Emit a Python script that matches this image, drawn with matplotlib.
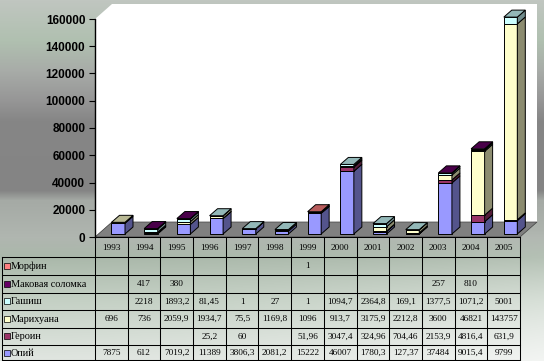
import numpy as np
import matplotlib
matplotlib.use("Agg")
import matplotlib.pyplot as plt
from matplotlib.patches import Polygon
from matplotlib.colors import to_rgb

# ---------------- data ----------------
years = ["1993", "1994", "1995", "1996", "1997", "1998", "1999",
         "2000", "2001", "2002", "2003", "2004", "2005"]
opium = [7875, 612, 7019.2, 11389, 3806.3, 2081.2, 15222, 46007, 1780.3, 127.37, 37484, 9015.4, 9799]
heroin = [None, None, None, 25.2, 60, None, 51.96, 3047.4, 324.96, 704.46, 2153.9, 4816.4, 631.9]
marijuana = [696, 736, 2059.9, 1934.7, 75.5, 1169.8, 1096, 913.7, 3175.9, 2212.8, 3600, 46821, 143757]
hashish = [None, 2218, 1893.2, 81.45, 1, 27, 1, 1094.7, 2364.8, 169.1, 1377.5, 1071.2, 5001]
poppy_straw = [None, 417, 380, None, None, None, None, None, None, None, 257, 810, None]
morphine = [None, None, None, None, None, None, 1, None, None, None, None, None, None]

# bottom -> top stacking order
series_names = ["Опий", "Героин", "Марихуана", "Гашиш", "Маковая соломка", "Морфин"]
series_vals = [opium, heroin, marijuana, hashish, poppy_straw, morphine]
series_colors = ["#9999FF", "#993366", "#FFFFCC", "#CCFFFF", "#660066", "#FF8080"]
yticks = [0, 20000, 40000, 60000, 80000, 100000, 120000, 140000, 160000]

# ---------------- geometry (pixels) ----------------
W, H = 544, 361
X0, X1 = 95, 520           # category axis extent
CAT = (X1 - X0) / len(years)
Y0, YTOP = 237, 19         # 0 and 160000
VPX = 160000 / (Y0 - YTOP)  # value units per pixel
FDX, FDY = 17, 15          # floor depth (px)
BDX, BDY = 8, 7            # bar depth (px)
B_LEFT, B_W, B_UP = 16.5, 13.5, 3

fig = plt.figure(figsize=(W / 100, H / 100), dpi=100)

# ---------------- background gradient ----------------
bg = fig.add_axes([0, 0, 1, 1], zorder=0)
bg.axis("off")
sy = [0, 40, 70, 100, 120, 190, 200, 237, 257, 300, 361]
sc = np.array([(192, 198, 192), (176, 192, 176), (168, 172, 168), (150, 150, 150),
               (134, 134, 134), (132, 132, 132), (165, 170, 165), (176, 182, 176),
               (170, 184, 170), (196, 208, 196), (225, 230, 225)]) / 255.0
yy = np.arange(H)
col = np.stack([np.interp(yy, sy, sc[:, k]) for k in range(3)], axis=1)
img = np.repeat(col[:, None, :], W, axis=1)
xx = np.arange(W)[None, :] / W
t = (xx ** 2) * np.clip((yy[:, None] - 230) / 130, 0, 1) * 0.6
img = img * (1 - t[..., None]) + t[..., None]
bg.imshow(img, extent=[0, W, H, 0], aspect="auto")
bg.set_xlim(0, W)
bg.set_ylim(H, 0)

# ---------------- main 3D-ish axes ----------------
ax = fig.add_axes([X0 / W, (H - Y0) / H, (X1 + FDX + 1 - X0) / W, (Y0 - 4) / H], zorder=1)
ax.patch.set_alpha(0)
ax.set_xlim(-0.5, -0.5 + (X1 + FDX + 1 - X0) / CAT)
ax.set_ylim(0, (Y0 - 4) * VPX)
for s in ax.spines.values():
    s.set_visible(False)

fdx, fdy = FDX / CAT, FDY * VPX
bdx, bdy = BDX / CAT, BDY * VPX
n = len(years)
xl0, xr0 = -0.5, n - 0.5
ymax = yticks[-1]

# walls and floor
ax.add_patch(Polygon([(xl0, 0), (xl0, ymax), (xl0 + fdx, ymax + fdy), (xl0 + fdx, fdy)],
                     closed=True, facecolor="white", edgecolor="none", zorder=1))
ax.add_patch(Polygon([(xl0 + fdx, fdy), (xr0 + fdx, fdy), (xr0 + fdx, ymax + fdy), (xl0 + fdx, ymax + fdy)],
                     closed=True, facecolor="white", edgecolor="none", zorder=1))
ax.add_patch(Polygon([(xl0, 0), (xr0, 0), (xr0 + fdx, fdy), (xl0 + fdx, fdy)],
                     closed=True, facecolor="#808080", edgecolor="#404040", lw=0.5, zorder=2))


def shade(c, f):
    r, g, b = to_rgb(c)
    return (r * f, g * f, b * f)


ew = 0.7
for i in range(n):
    left = i - 0.5 + B_LEFT / CAT
    w = B_W / CAT
    right = left + w
    base = B_UP * VPX
    bottom = base
    top_color = None
    for vals, c in zip(series_vals, series_colors):
        v = vals[i]
        if v is None:
            continue
        ax.bar(left, v, width=w, bottom=bottom, align="edge", color=c,
               edgecolor="black", linewidth=ew, zorder=3)
        ax.add_patch(Polygon([(right, bottom), (right + bdx, bottom + bdy),
                              (right + bdx, bottom + v + bdy), (right, bottom + v)],
                             closed=True, facecolor=shade(c, 0.55), edgecolor="black",
                             lw=ew, zorder=3))
        bottom += v
        top_color = c
    ax.add_patch(Polygon([(left, bottom), (right, bottom), (right + bdx, bottom + bdy),
                          (left + bdx, bottom + bdy)],
                         closed=True, facecolor=shade(top_color, 0.72), edgecolor="black",
                         lw=ew, zorder=3))

# value axis
ax.plot([xl0, xl0], [0, ymax], color="black", lw=1.0, zorder=4, clip_on=False)
ax.set_yticks(yticks)
ax.set_yticklabels([str(v) for v in yticks], fontfamily="Liberation Sans",
                   fontweight="bold", fontsize=8.5)
ax.tick_params(axis="y", length=4, width=0.8, pad=3, direction="out")
ax.set_xticks([])

# ---------------- data table ----------------
tb = fig.add_axes([0, 0, 1, 1], zorder=2)
tb.axis("off")
tb.patch.set_alpha(0)
tb.set_xlim(0, W)
tb.set_ylim(H, 0)

lw_t = 0.75
col_edges = [X0 + k * CAT for k in range(n + 1)]
row_edges = [257, 275, 292.5, 310, 327.5, 345, 360]
TL = 2
# axis/top line of header
tb.plot([X0, X1], [Y0, Y0], color="black", lw=lw_t)
for xe in col_edges:
    tb.plot([xe, xe], [Y0, row_edges[-1]], color="black", lw=lw_t)
for ye in row_edges:
    tb.plot([TL, X1], [ye, ye], color="black", lw=lw_t)
tb.plot([TL, TL], [row_edges[0], row_edges[-1]], color="black", lw=lw_t)

tfont = dict(fontfamily="Liberation Serif", fontsize=6.7, color="black")
lfont = dict(fontfamily="Liberation Serif", fontsize=7.4, color="black")
for k, yr in enumerate(years):
    tb.text((col_edges[k] + col_edges[k + 1]) / 2, (Y0 + row_edges[0]) / 2 + 0.5, yr,
            ha="center", va="center", **tfont)

rows_top_down = list(zip(series_names, series_vals, series_colors))[::-1]
for r, (name, vals, c) in enumerate(rows_top_down):
    yc = (row_edges[r] + row_edges[r + 1]) / 2
    tb.add_patch(plt.Rectangle((3.5, yc - 3), 6, 6, facecolor=c, edgecolor="black", lw=0.5))
    tb.text(11, yc + 0.5, name, ha="left", va="center", **lfont)
    for k, v in enumerate(vals):
        if v is None:
            continue
        s = f"{v:g}".replace(".", ",")
        tb.text((col_edges[k] + col_edges[k + 1]) / 2, yc + 0.5, s,
                ha="center", va="center", **tfont)

fig.savefig("out.png", dpi=100)
